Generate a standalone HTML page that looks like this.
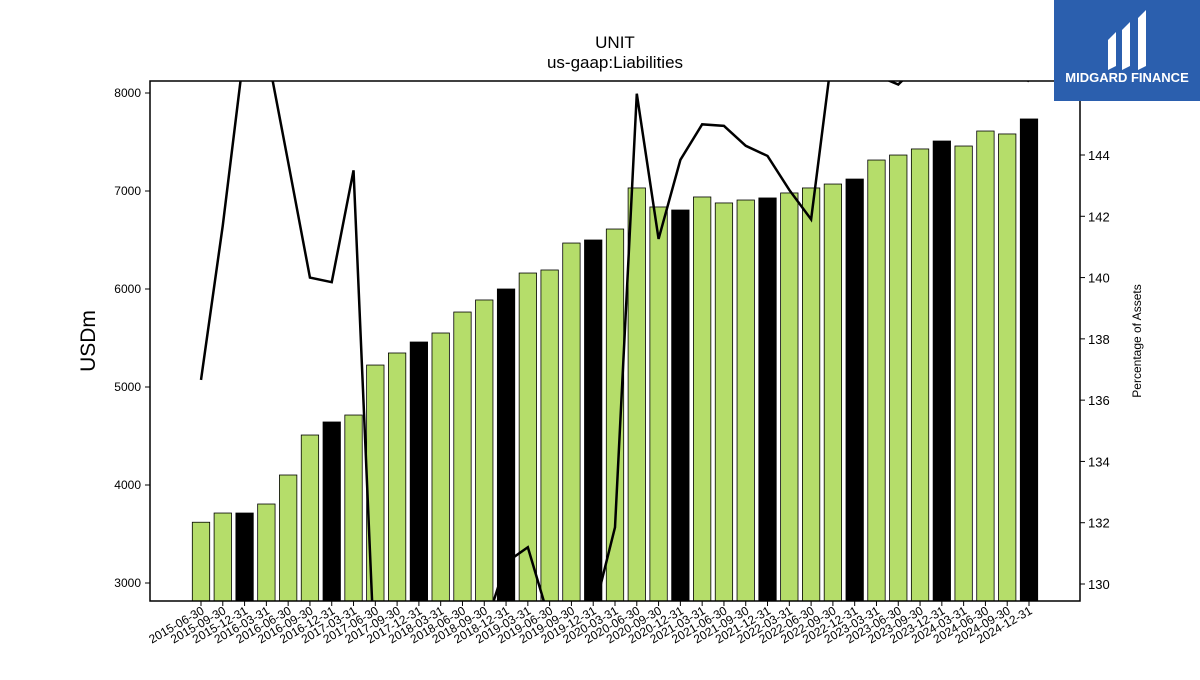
<!DOCTYPE html>
<html><head><meta charset="utf-8"><style>
body{margin:0;background:#fff;}
svg text{font-family:"Liberation Sans","DejaVu Sans",sans-serif;}
</style></head><body>
<svg id="chart" width="1200" height="675" xmlns="http://www.w3.org/2000/svg">
<text x="615" y="48" text-anchor="middle" font-size="17">UNIT</text>
<text x="615" y="68" text-anchor="middle" font-size="17">us-gaap:Liabilities</text>
<defs><clipPath id="pc"><rect x="150" y="81" width="930" height="520"/></clipPath></defs>
<g id="bars"></g>
<g id="line" clip-path="url(#pc)"></g>
<rect x="150" y="81" width="930" height="520" fill="none" stroke="#000" stroke-width="1.5"/>
<g id="yl"></g>
<g id="yr"></g>
<g id="xa"></g>
<text transform="translate(95,341) rotate(-90)" text-anchor="middle" font-size="21">USDm</text>
<text transform="translate(1141,341) rotate(-90)" text-anchor="middle" font-size="12">Percentage of Assets</text>
<g>
<rect x="1054" y="0" width="146" height="101" fill="#2b5fae"/>
<path d="M1108 40 l8 -8 v34 l-8 4z M1122 30 l8 -8 v44 l-8 4z M1138 18 l8 -8 v56 l-8 4z" fill="#fff"/>
<text x="1127" y="82" text-anchor="middle" font-size="13" font-weight="bold" fill="#fff">MIDGARD FINANCE</text>
</g>
</svg>
<script>
const categories=["2015-06-30","2015-09-30","2015-12-31","2016-03-31","2016-06-30","2016-09-30","2016-12-31","2017-03-31","2017-06-30","2017-09-30","2017-12-31","2018-03-31","2018-06-30","2018-09-30","2018-12-31","2019-03-31","2019-06-30","2019-09-30","2019-12-31","2020-03-31","2020-06-30","2020-09-30","2020-12-31","2021-03-31","2021-06-30","2021-09-30","2021-12-31","2022-03-31","2022-06-30","2022-09-30","2022-12-31","2023-03-31","2023-06-30","2023-09-30","2023-12-31","2024-03-31","2024-06-30","2024-09-30","2024-12-31"];
const liabilities=[3620,3714,3714,3806,4102,4510,4643,4714,5224,5347,5459,5551,5765,5888,6000,6163,6194,6469,6500,6612,7031,6837,6806,6939,6878,6908,6929,6980,7031,7071,7122,7316,7367,7429,7510,7459,7612,7582,7735];
const pctAssets=[136.66,141.7,147.5,147.5,143.77,140.0,139.85,143.5,127,126,126,126,127,128.5,130.7,131.2,128.8,128,129,131.85,146.0,141.26,143.84,145.0,144.95,144.3,143.97,142.86,141.9,147.5,147,146.6,146.3,147,147,147,147,147,146.4];
const leftTicks=[3000,4000,5000,6000,7000,8000];
const rightTicks=[130,132,134,136,138,140,142,144];
const NS="http://www.w3.org/2000/svg";
const yL=v=>583-(v-3000)*0.098;
const yR=v=>584-(v-130)*(429/14);
const xC=i=>201+i*(828/38);
const bottom=601;
function mk(t,a,p){const e=document.createElementNS(NS,t);for(const k in a)e.setAttribute(k,a[k]);p.appendChild(e);return e;}
const bars=document.getElementById('bars');
liabilities.forEach((v,i)=>{
 const black=(i%4===2);
 const r=mk('rect',{x:xC(i)-8.7,y:yL(v),width:17.4,height:bottom-yL(v),fill:black?'#000':'#b5dd6a',stroke:'#000','stroke-width':0.8},bars);
 
 
});
const lg=document.getElementById('line');
const pl=mk('polyline',{points:pctAssets.map((v,i)=>xC(i)+','+yR(v)).join(' '),fill:'none',stroke:'#000','stroke-width':2.5},lg);


const yl=document.getElementById('yl');
leftTicks.forEach(t=>{const y=yL(t);mk('line',{x1:145,x2:150,y1:y,y2:y,stroke:'#000'},yl);
 const tx=mk('text',{x:141,y:y+4,'text-anchor':'end','font-size':12},yl);tx.textContent=t;
 });
const yr=document.getElementById('yr');
rightTicks.forEach(t=>{const y=yR(t);mk('line',{x1:1080,x2:1085,y1:y,y2:y,stroke:'#000'},yr);
 const tx=mk('text',{x:1088,y:y+5,'font-size':13},yr);tx.textContent=t;
 });
const xa=document.getElementById('xa');
categories.forEach((c,i)=>{const x=xC(i);mk('line',{x1:x,x2:x,y1:601,y2:606,stroke:'#000'},xa);
 const tx=mk('text',{transform:`translate(${x+4},${613}) rotate(-30)`,'text-anchor':'end','font-size':12},xa);tx.textContent=c;
 });
</script>
</body></html>
